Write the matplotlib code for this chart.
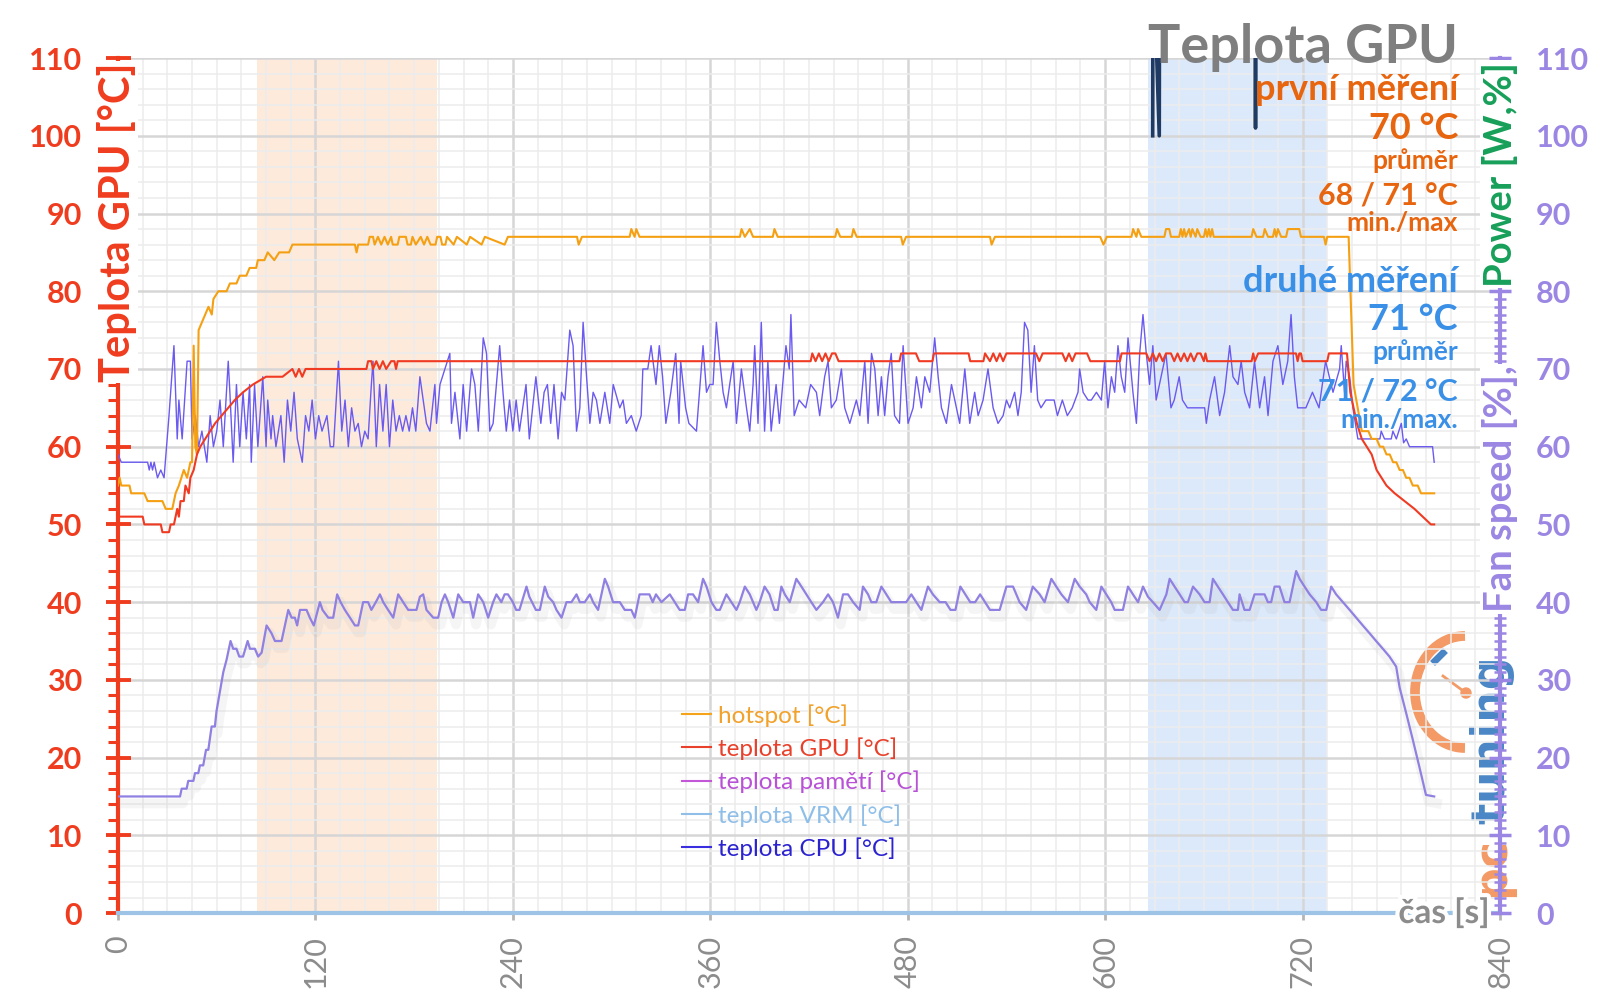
import numpy as np
import matplotlib
matplotlib.use('Agg')
import matplotlib.pyplot as plt
import matplotlib.patheffects as pe
from matplotlib.lines import Line2D
from matplotlib.patches import Arc, Circle

plt.rcParams['font.family'] = ['Lato', 'DejaVu Sans']

# (time [s], value)
hotspot = [(0,55),(1,56),(2,55),(7,55),(8,54),(16,54),(18,53),(27,53),(29,52),(33,52),(35,54),(37,55),
           (40,57),(42,56),(44,58),(45,58),(46,73),(47,60),(48,59),(49,75),(51,76),(53,77),(55,78),(57,77),
           (58,79),(61,80),(66,80),(68,81),(72,81),(74,82),(78,82),(80,83),(84,83),(85,84),(89,84),(91,85),
           (95,84),(98,85),(104,85),(106,86),(144,86),(145,85),(146,86),(152,86),(153,87),(155,87),(156,86),
           (158,87),(160,86),(162,87),(164,86),(166,87),(167,86),(170,86),(171,87),(175,87),(176,86),(178,86),
           (179,87),(181,86),(184,87),(186,86),(188,87),(190,86),(193,86),(194,87),(196,87),(197,86),(199,86),
           (200,87),(204,86),(206,87),(212,86),(214,87),(221,86),(223,87),(235,86),(237,87),(279,87),(280,86),
           (282,87),(311,87),(312,88),(314,87),(315,88),(317,87),(378,87),(379,88),(381,87),(384,88),(386,87),
           (398,87),(399,88),(401,87),(436,87),(437,88),(439,87),(446,87),(447,88),(449,87),(476,87),(477,86),
           (479,87),(530,87),(531,86),(533,87),(597,87),(599,86),(601,87),(616,87),(617,88),(619,87),(620,88),
           (622,87),(636,87),(637,88),(639,88),(640,87),(645,87),(646,88),(647,87),(648,88),(649,87),(651,88),
           (652,87),(653,88),(655,87),(656,88),(658,87),(660,87),(661,88),(662,87),(663,88),(664,87),(665,88),
           (666,87),(689,87),(690,88),(692,87),(696,87),(697,88),(699,87),(702,87),(703,88),(704,87),(705,88),
           (707,87),(710,87),(711,88),(718,88),(719,87),(733,87),(734,86),(735,87),(748,87),(751,68),(756,62),
           (760,62),(762,61),(765,61),(767,60),(769,60),(771,59),(773,59),(775,58),(777,58),(779,57),(781,57),
           (783,56),(785,56),(787,55),(790,55),(792,54),(800,54)]

gpu = [(0,51),(15,51),(16,50),(26,50),(27,49),(31,49),(32,50),(34,50),(35,51),(36,52),(37,51),(38,53),
       (40,53),(41,55),(43,54),(44,56),(46,57),(48,59),(50,60),(53,61),(56,62),(59,63),(63,64),(67,65),
       (71,66),(76,67),(82,68),(90,69),(100,69),(106,70),(108,69),(110,70),(112,69),(114,70),(151,70),
       (152,71),(154,71),(155,70),(157,71),(159,70),(161,71),(163,70),(166,71),(168,71),(169,70),(170,71),
       (421,71),(422,72),(424,71),(426,72),(428,71),(430,72),(432,71),(434,72),(436,72),(438,71),(475,71),
       (476,72),(485,72),(487,71),(495,71),(496,72),(517,72),(518,71),(526,71),(527,72),(530,71),(532,72),
       (534,71),(536,72),(538,71),(540,72),(558,72),(560,71),(562,72),(574,72),(576,71),(578,72),(580,71),
       (582,72),(589,72),(591,71),(609,71),(610,72),(625,72),(627,71),(629,72),(631,71),(633,72),(635,71),
       (637,72),(640,72),(642,71),(644,72),(646,71),(648,72),(650,71),(652,72),(654,71),(656,72),(658,72),
       (660,71),(661,72),(662,71),(689,71),(690,72),(691,71),(693,72),(716,72),(717,71),(718,72),(719,72),
       (720,71),(735,71),(736,72),(747,72),(749,67),(753,63),(756,61),(759,60),(762,59),(765,57),(768,56),
       (771,55),(776,54),(782,53),(788,52),(793,51),(798,50),(800,50)]

cpu = [(0,59),(2,58),(18,58),(19,57),(20,58),(21,57),(22,58),(24,56),(26,57),(28,56),(31,64),(34,73),
       (36,61),(37,66),(39,61),(42,71),(44,71),(45,61),(47,64),(49,60),(51,62),(54,58),(56,64),(58,60),
       (60,62),(62,66),(64,60),(67,71),(68,67),(70,58),(72,68),(74,60),(76,67),(78,61),(80,68),(81,58),
       (83,68),(85,60),(88,69),(90,60),(91,66),(93,61),(94,64),(96,60),(99,64),(101,58),(103,66),(105,62),
       (107,67),(109,61),(112,58),(114,64),(116,62),(118,66),(120,61),(122,64),(124,62),(127,64),(129,60),
       (131,60),(134,71),(136,62),(138,66),(140,60),(142,65),(144,62),(146,63),(148,60),(150,62),(152,61),
       (154,68),(155,71),(157,60),(159,68),(161,62),(163,68),(165,60),(167,66),(169,62),(171,64),(173,62),
       (175,64),(177,62),(179,65),(181,62),
       (183.5,69),(187.5,63),(189.6,62),(192.6,68),(193.6,63),(195.7,68),(198.7,70),(201.7,72),(202.7,63),
       (204.8,67),(207.8,61),(209.8,68),(211.9,62),(214.9,70),(216.9,68),(219,62),(222,74),(224,72),(226,62),
       (228,63),(232,73),(234,67),(236,62),(238,66),(240,62),(242,66),(244,62),(248,68),(250,61),(254,69),
       (257,63),(259,67),(261,68),(263,63),(265,68),(267.5,61),(269.6,67),(271.6,66),(274.6,75),(276.6,73),
       (278.7,62),(280.7,65),(282.7,76),(284.8,69),(286.8,63),(288.8,67),(290.8,66),(292.9,63),(295.9,67),
       (298.9,63),(301,68),(305,65),(307,66),(309,63),(312,64),(315,62),(318,64),(319,70),(322,70),(324,73),
       (327,68),(329,73),(331,69),(333,63),(336,67),(339,72),(341,63),(342,71),(345,65),(347,63),(351.6,62),
       (355.6,73),(357.7,67),(359.7,68),(361.7,68),(363.7,76),(365.8,71),(367.8,67),(369.8,65),(371.8,68),
       (373.9,71),(375.9,63),(378.9,70),(382,65),(384,62),(386,68),(387,73),(389,63),(391,76),(393,62),
       (395,71),(397,62),(400,68),(402,63),(406,73),(408,70),(409,77),(411,64),(414,66),(418,65),(421,68),
       (424.5,67),(426.5,64),(429.5,69),(431.6,71),(433.6,65),(436.6,66),(439.7,70),(441.7,65),
       (444.8,63),(448.8,66),(450.9,64),(453.9,71),(455.9,63),(458,72),(460,70),(462,64),(464,69),(466,64),
       (468,69),(470,72),(472,64),(475,63),(477.2,73),(480.2,63),(483.3,65),(485.3,69),(488.3,65),(490.4,69),
       (493.4,67),(496.4,74),(498.5,69),(500.5,65),(503.5,63),(506.6,68),(509.6,65),(511.6,63),(514.7,70),
       (517.7,63),(520.7,67),(522.8,64),(525.8,66),(528.8,70),(531.9,65),(534.9,63),(538,64),(540,66),
       (542,65),(545,67),(547,64),(549,67),(551,76),(553,75),(555,67),(557,73),(559,66),(561,65),(564,66),
       (566,66),(569,66),(571,64),(574,66),(577,64),(580,65),(583.5,67),(584.5,70),(586.6,67),(589.6,66),
       (591.6,66),(594.7,67),(597.7,66),(599.7,71),(601.7,65),(603.8,69),(605.8,67),(607.8,73),(609.8,69),
       (611.9,67),(613.9,74),(616.9,67),(619,63),(621,72),(623,77),(625,72),(627,68),(629,73),(631,66),
       (634,69),(637,72),(640,65),(642,66),(645,69),(647,66),(650,65),(653,65),(660.5,65),(661.5,63),
       (663.5,66),(666.5,69),(669.6,64),(672.6,67),(675.7,73),(677.7,69),(680.7,68),(682.7,71),(684.8,67),
       (687.8,65),(690.8,71),(693.9,65),(696.9,69),(699,64),(702,71),(705,73),(708,68),(711,71),(713,77),
       (715,69),(717,65),(722,65),(726,67),(730,65),(734,71),(738.5,67),(742.5,70),(743.5,73),(745.5,67),
       (746.5,71),(748.6,69),(750.6,65),(753.6,61),(767,61),(767.8,62),(769.8,61),(773.9,61),(774.9,62),
       (777,61),(780,63),(781.4,60.5),(783,61),(785,60),(799,60),(800,58)]

fan = [(0,15),(37.7,15),(38.7,16),(41.7,16),(42.7,17),(45.8,17),(46.8,18),(48.8,18),(49.8,19),(51.8,19),
       (53.5,21),(54.9,21),(56.9,24),(58.9,24),(59.9,26),(64,31),(66,32.6),(68.4,35),(70,34),(72,34),
       (73.7,33),(76,33),(78.8,35),(80.2,34),(83.2,34),(85.2,33),(87.3,33.5),(90.3,37),(93.3,36),(95.4,35),
       (99.4,35),(103.5,39),(105.5,38),(107.5,38),(108.9,37),(110.6,39),(114.6,39),(116.6,38),(119,37),
       (122.7,40),(124.3,39),(127.8,38),(130.8,38),(133.2,41),(135.3,40),(137.9,39),(141,38),(144,37),
       (146,37),(149,40),(152,40),(154,39),(156.7,40),(159.2,41),(161.2,40),(164.2,39),(167.3,38),(170.3,41),
       (173.3,40),(176.4,39),(181.4,39),(183.5,40.7),(185.5,41),(187.5,39),(191.6,38),(194.6,38),(196.7,40),
       (198.7,41),(200.7,40),(203.8,38),(206.8,41),(209.8,40),(213.9,40),(215.9,38),(218.9,41),(222,40),
       (225,38),(228,40),(230,41),(233,40),(235,41),(237,41),(240,40),(242,39),(244,39),(248.3,42),
       (250,40.7),(254,39),(256.4,39),(259.4,42),(261.5,40.7),(264.5,40),(266.5,39),(269.6,38),(272.6,40),
       (275.6,40),(278.7,41),(280.7,40),(283.7,40),(286.8,41),(288.8,40),(291.8,39),(295.9,43),(297.9,42),
       (300.9,40),(305,40),(308,39),(312,39),(314.1,38),(317,41),(320,41),(323,41),(325,40),(327,41),
       (330.3,40),(335.4,41),(338.4,40),(341.4,39),(344.5,39),(346.5,41),(349.5,41),(352.6,40),(355.6,43),
       (357.7,42),(360.7,40),(363.7,39),(365.8,39),(367.8,40),(369.8,41),(372.8,40),(375.9,39),(377.9,40),
       (381,42),(384,41),(388,39),(390,40),(393,42),(396,41),(399,39),(401,39),(403.2,42),(405.3,41),
       (408.3,40),(412.3,43),(415.4,42),(418.4,41),(421.4,40),(424.5,39),(428.5,40),(431.6,41),(434.6,40),
       (437.6,38),(440.7,41),(443.7,41),(446.8,40),(450.8,39),(452.8,42),(455.9,41),(457.9,40),(460.9,40),
       (464,42),(467,41),(470,40),(474,40),(477.1,40),(479.1,40),(482.2,41),(485.2,40),(488.3,39),(492.3,42),
       (495.3,41),(499.4,40),(503,40),(506,39),(509,39),(512,42),(515,41),(518,40),(521,40),(524,41),
       (527,40),(530,39),(533,39),(535.9,39),(540,42),(544,42),(548,40),(552,39),(556,42),(560.2,41),
       (563.2,40),(567.3,43),(570.3,42),(573.4,41),(577.4,40),(581.5,43),(584.5,42),(588.5,41),(590.6,40),
       (594.6,39),(597.7,42),(600.7,41),(603.7,40),(605.8,39),(610.8,39),(613.9,42),(616.9,41),(620,40),
       (623,42),(626,40.7),(629,40),(633.1,39),(637.2,41),(639.2,43),(642.2,42),(645.3,41),(648.3,40),
       (650.3,40),(653.4,42),(657.4,41),(660.4,40),(663.5,40),(665.5,43),(668.5,42),(671.6,41),(674.6,40),
       (677.7,39),(680.7,39),(681.7,41),(684.7,39),(687.8,39),(690.8,41),(696.9,41),(698.9,40),(700.9,40),
       (703,42),(706,42),(709,40),(712.1,40),(716.1,44),(718.2,43),(721.2,42),(724.3,41),(728.3,40),
       (731.3,39),(734.4,39),(737.4,42),(740.4,41),(744.5,40),(748.6,39),(752.6,38),(756.6,37),(760.7,36),
       (764.7,35),(768.8,34),(772.8,33),(776.9,31.7),(779,29),(783,25.7),(787,22.3),(791,18.8),(795,15.2),
       (800,15)]

# power spikes clipped at the top of the chart
power = [(628.9,100),(629.1,125),(632.9,100),(633.1,125),(None,None),(691.3,125),(691.4,101),(691.5,125)]

runs = [(84.5, 194), (626, 735)]
run_colors = ['#fdeadb', '#dce9fa']

legend_labels = ['hotspot [°C]', 'teplota GPU [°C]', 'teplota pamětí [°C]', 'teplota VRM [°C]', 'teplota CPU [°C]']
legend_line_colors = ['#f5a31a', '#e8402a', '#c257d8', '#8fbfe8', '#3a2fe0']
legend_text_colors = ['#f2a12a', '#e8402a', '#b851d6', '#8fbfe8', '#2b22d0']

RED = '#f03c1e'
PURPLE = '#9b87e3'


def xy(pairs):
    arr = np.array([(np.nan if a is None else a, np.nan if b is None else b) for a, b in pairs], dtype=float)
    return arr[:, 0], arr[:, 1]


fig = plt.figure(figsize=(16, 10.08), dpi=100)
fig.patch.set_facecolor('white')
ax = fig.add_axes([0.07375, 0.0942, 0.86375, 0.8482])
ax.patch.set_visible(False)
ax2 = ax.twinx()

for (a, b), c in zip(runs, run_colors):
    ax.axvspan(a, b, color=c, zorder=0.1, lw=0)

ax.set_axisbelow(True)
ax.grid(which='major', color='#d6d6d6', lw=1.8)
ax.grid(which='minor', color='#ececec', lw=1.1)

t, v = xy(cpu)
ax.plot(t, v, color='#6a5af0', lw=1.0, zorder=3)
t, v = xy(hotspot)
ax.plot(t, v, color='#f5a012', lw=1.5, zorder=4)
t, v = xy(gpu)
ax.plot(t, v, color='#f03a22', lw=1.5, zorder=5)

t, v = xy(fan)
ax2.plot(t, v, color='#8f80e2', lw=1.6, zorder=3,
         path_effects=[pe.SimpleLineShadow(offset=(2, -5), shadow_color='#999999', alpha=0.09, linewidth=7),
                       pe.Normal()])
t, v = xy(power)
ax2.plot(t, v, color='#1f3a63', lw=2.6, zorder=3)

ax.set_xlim(0, 840)
ax.set_ylim(0, 110)
ax2.set_ylim(0, 110)

ax.set_xticks(range(0, 841, 120))
ax.set_xticks(range(0, 841, 15), minor=True)
ax.set_yticks(range(0, 111, 10))
ax.set_yticks(range(0, 111, 2), minor=True)
ax2.set_yticks(range(0, 111, 10))
ax2.set_yticks(range(0, 111, 1), minor=True)

ax.set_xticklabels([str(x) for x in range(0, 841, 120)])
ax.set_yticklabels([str(y) for y in range(0, 111, 10)], fontweight='bold')
ax2.set_yticklabels([str(y) for y in range(0, 111, 10)], fontweight='bold')

for s in ['top', 'right']:
    ax.spines[s].set_visible(False)
for s in ['top', 'left', 'bottom']:
    ax2.spines[s].set_visible(False)
ax.spines['left'].set_color(RED)
ax.spines['left'].set_linewidth(3)
ax.spines['bottom'].set_color('#9dc3e6')
ax.spines['bottom'].set_linewidth(3)
ax2.spines['right'].set_color(PURPLE)
ax2.spines['right'].set_linewidth(3)

ax.tick_params(axis='y', which='major', direction='inout', length=18, width=2.8, color=RED,
               labelcolor=RED, labelsize=22, pad=17)
ax.tick_params(axis='y', which='minor', direction='out', length=7, width=2.2, color=RED)
ax.tick_params(axis='x', which='major', direction='out', length=5, width=2, color='#b5b5b5',
               labelcolor='#8c8c8c', labelsize=22, labelrotation=90, pad=11)
ax.tick_params(axis='x', which='minor', length=0)
ax2.tick_params(axis='y', which='major', direction='inout', length=16, width=2.5, color=PURPLE,
                labelcolor=PURPLE, labelsize=22, pad=18)
ax2.tick_params(axis='y', which='minor', direction='inout', length=8, width=1.8, color=PURPLE)

handles = [Line2D([], [], color=c, lw=1.5) for c in legend_line_colors]
leg = ax2.legend(handles, legend_labels, loc='upper left', bbox_to_anchor=(682 / 1600, 1 - 704 / 1008),
                 bbox_transform=fig.transFigure, frameon=False, fontsize=17.5, handlelength=1.2,
                 handletextpad=0.3, labelspacing=0.44, borderpad=0, borderaxespad=0)
for txt, c in zip(leg.get_texts(), legend_text_colors):
    txt.set_color(c)

# axis titles
white_box = dict(facecolor='white', edgecolor='none', pad=1)
fig.text(117 / 1600, 1 - 62 / 1008, 'Teplota GPU [°C]', rotation=90, ha='center', va='top',
         fontsize=30, fontweight='bold', color=RED, bbox=white_box, zorder=6)
fig.text(1500 / 1600, 1 - 612 / 1008, 'Fan speed [%],', rotation=90, ha='center', va='bottom',
         fontsize=27.5, fontweight='bold', color=PURPLE, bbox=white_box, zorder=6)
fig.text(1500 / 1600, 1 - 62 / 1008, 'Power [W,%]', rotation=90, ha='center', va='top',
         fontsize=27.5, fontweight='bold', color='#17a05a', bbox=white_box, zorder=6)
fig.text(1490 / 1600, 1 - 913 / 1008, 'čas [s]', ha='right', va='center', fontsize=24,
         fontweight='bold', color='#8c8c8c', zorder=6,
         path_effects=[pe.withStroke(linewidth=6, foreground='white')])

# title and measurement notes
fig.text(1458 / 1600, 1 - 63 / 1008, 'Teplota GPU', ha='right', va='baseline', fontsize=39,
         fontweight='bold', color='#7f7f7f', zorder=6)
ORANGE = '#e8650f'
BLUE = '#3a90e6'
notes = [('první měření', 26, ORANGE, 100), ('70 °C', 26, ORANGE, 139), ('průměr', 19, ORANGE, 169),
         ('68 / 71 °C', 22, ORANGE, 204), ('min./max', 19, ORANGE, 231),
         ('druhé měření', 26, BLUE, 292), ('71 °C', 26, BLUE, 330), ('průměr', 19, BLUE, 360),
         ('71 / 72 °C', 22, BLUE, 401), ('min./max.', 19, BLUE, 428)]
for txt, size, col, ypx in notes:
    fig.text(1458 / 1600, 1 - ypx / 1008, txt, ha='right', va='baseline', fontsize=size,
             fontweight='bold', color=col, zorder=6)

# pcTuning logo
lax = fig.add_axes([0, 0, 1, 1], zorder=-1)
lax.set_xlim(0, 1600)
lax.set_ylim(1008, 0)
lax.axis('off')
lax.add_patch(Arc((1465, 692), 100, 112, theta1=90, theta2=270, color='#f39a66', lw=7))
lax.plot([1443, 1466], [676, 693], color='#f39a66', lw=2)
lax.add_patch(Circle((1466, 693), 5, color='#f39a66'))
lax.plot([1435, 1443], [661, 653], color='#4a86c6', lw=5)
lax.text(1492, 897, 'pc', rotation=90, ha='center', va='bottom', fontsize=33, fontweight='bold',
         family='DejaVu Sans', color='#f39a66')
lax.text(1492, 824, 'tuning', rotation=90, ha='center', va='bottom', fontsize=33, fontweight='bold',
         family='DejaVu Sans', color='#4a86c6')

fig.savefig('out.png', dpi=100, facecolor='white')
